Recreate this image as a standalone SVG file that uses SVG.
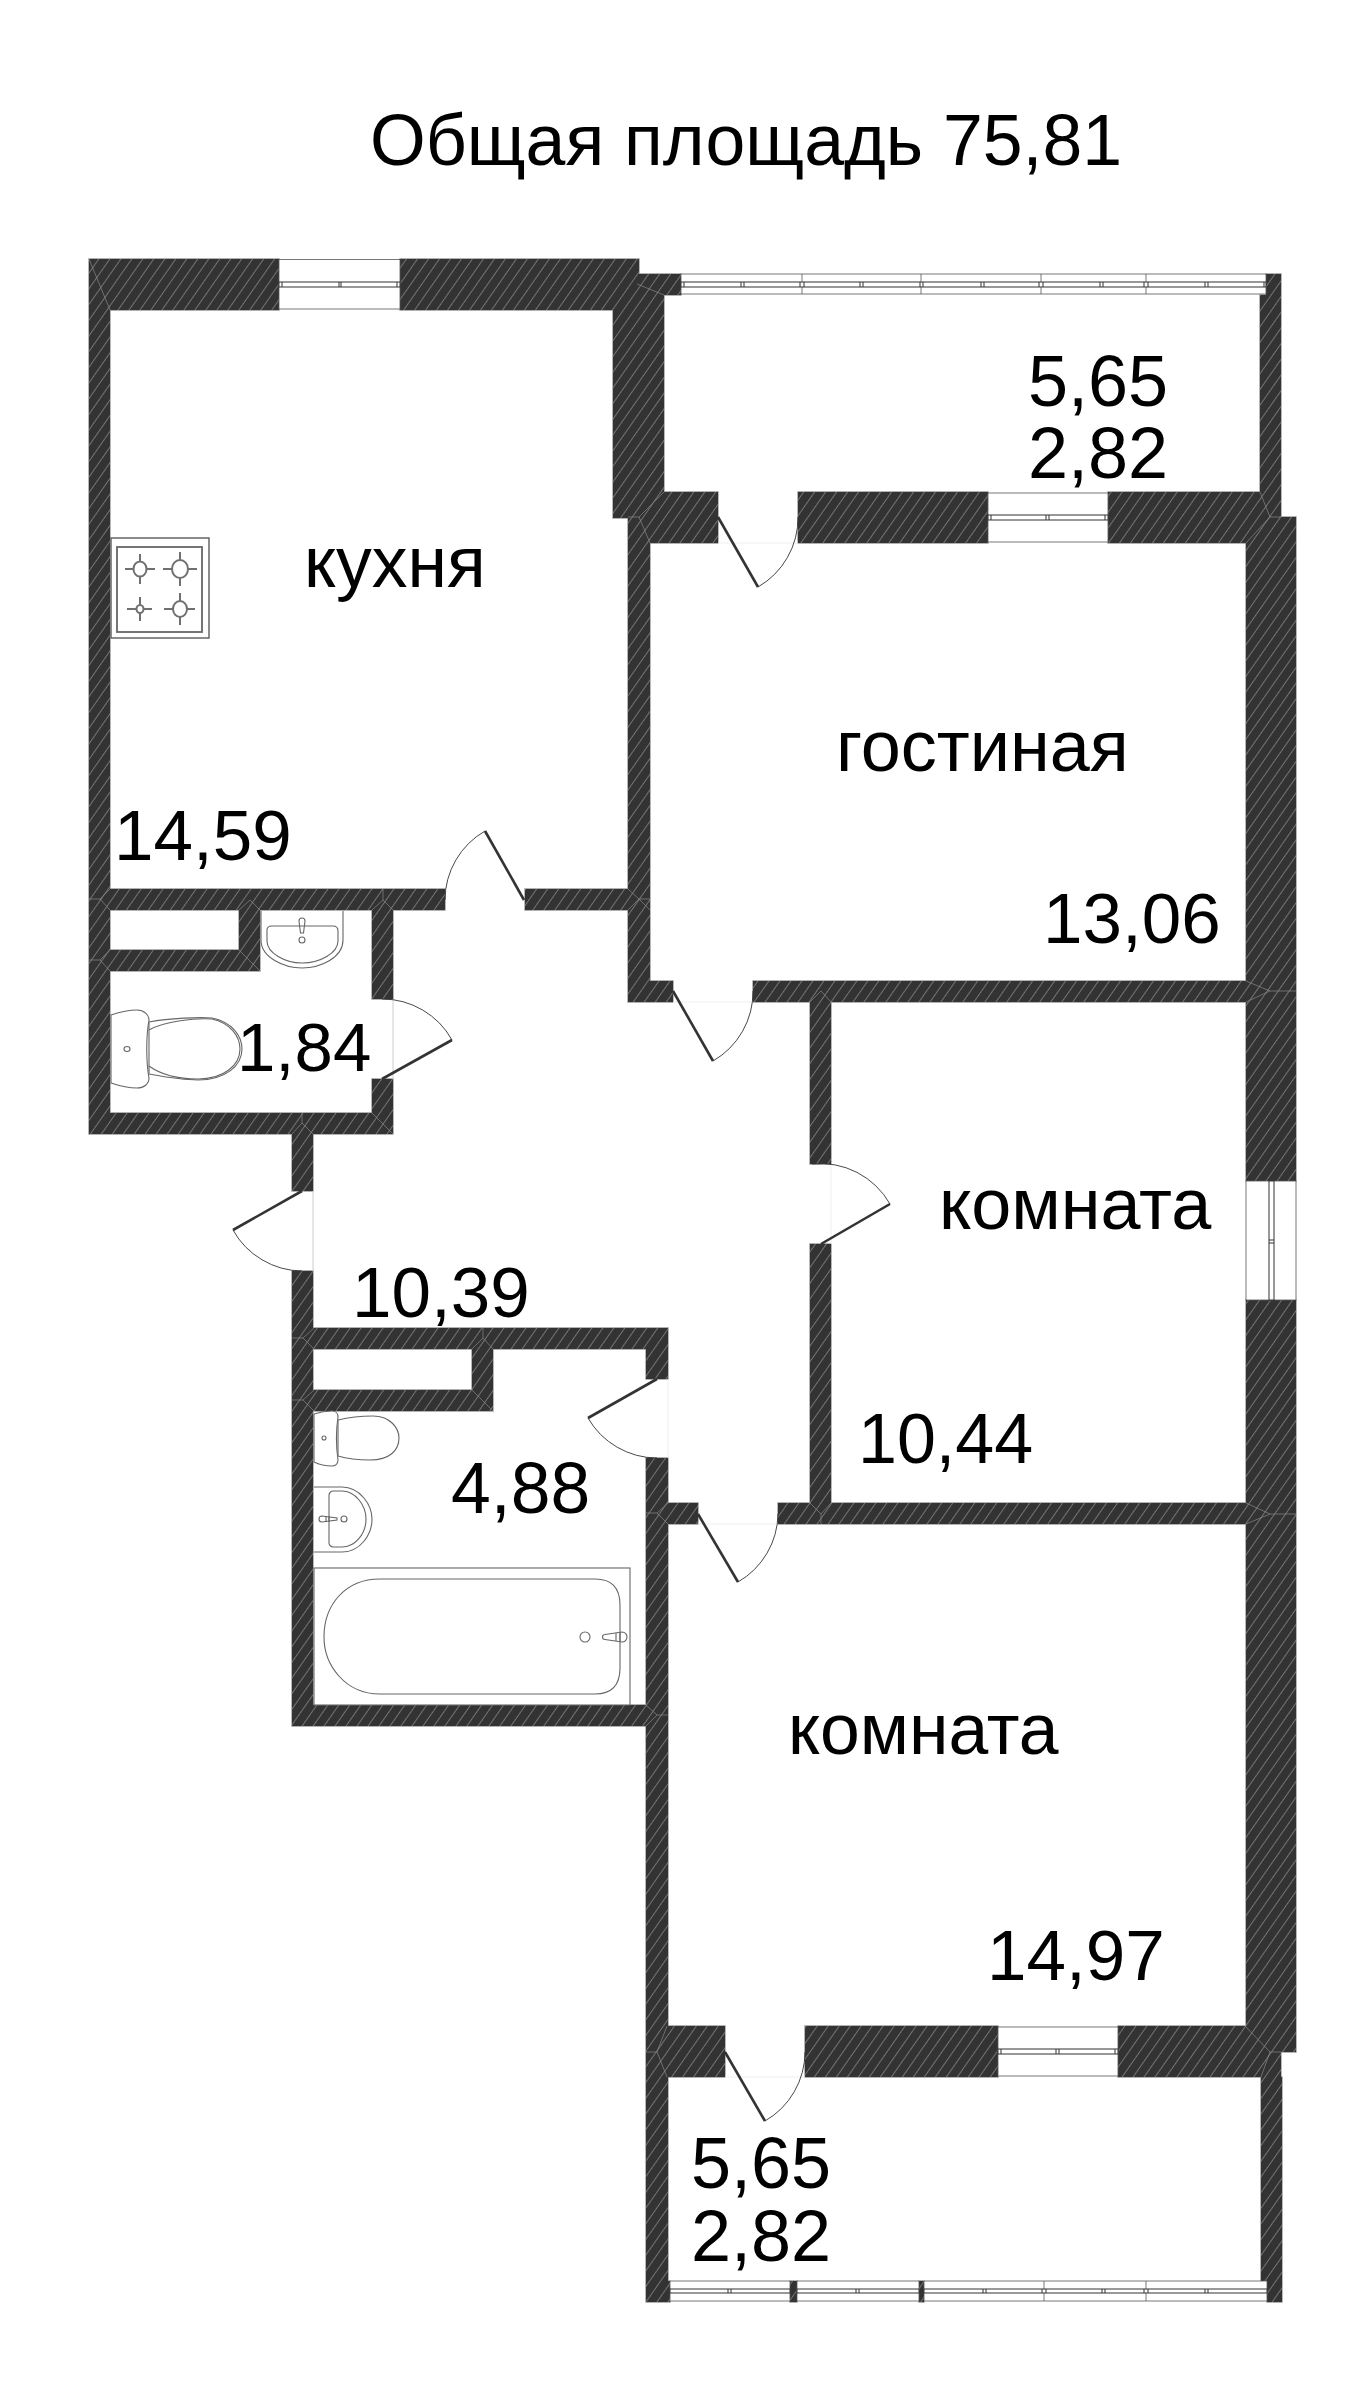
<svg xmlns="http://www.w3.org/2000/svg" xmlns:xlink="http://www.w3.org/1999/xlink" width="1371" height="2391" viewBox="0 0 1371 2391">
<style>
text{font-family:"Liberation Sans",Arial,sans-serif;font-size:72px;fill:#000}
.m{fill:none;stroke:#888;stroke-width:.7}
.leaf{fill:none;stroke:#333;stroke-width:2.6}
.arc{fill:none;stroke:#333;stroke-width:.9}
.th{fill:none;stroke:#ccc;stroke-width:1}
.th2{fill:none;stroke:#eee;stroke-width:1}
.win{fill:#fff;stroke:#555;stroke-width:.8}
.bar{fill:#fff;stroke:#333;stroke-width:1}
.fx{fill:#fff;stroke:#666;stroke-width:1.1}
.fx0{fill:none;stroke:#666;stroke-width:1.1}
.bn{fill:none;stroke:#707070;stroke-width:2}
</style>
<defs>
<pattern id="hatch" width="9" height="9" patternUnits="userSpaceOnUse" patternTransform="rotate(35)">
<rect width="9" height="9" fill="#333"/>
<line x1="4.5" y1="0" x2="4.5" y2="9" stroke="#7c7c7c" stroke-width=".9"/>
</pattern>
<path id="walls" d="M89 259H279V310H89Z M400 259H639V310H400Z M89 259H110V1134H89Z M613 274H664V518H613Z M613 259H639V310H613Z M639 274H681V295H639Z M628 518H650V1002H628Z M628 492H718V543H628Z M798 492H988V543H798Z M1108 492H1281V543H1108Z M1266 274H1281V295H1266Z M1260 295H1281V517H1260Z M1246 517H1296V1181H1246Z M1246 1300H1296V2052H1246Z M628 981H673V1002H628Z M753 981H1246V1002H753Z M89 889H445V910H89Z M525 889H650V910H525Z M110 950H260V971H110Z M239 910H260V971H239Z M372 910H393V999H372Z M372 1079H393V1134H372Z M89 1113H393V1134H89Z M292 1134H313V1191H292Z M292 1271H313V1726H292Z M292 1328H668V1349H292Z M313 1390H493V1411H313Z M472 1349H493V1411H472Z M646 1328H668V1379H646Z M646 1458H668V2302H646Z M668 1503H698V1524H668Z M778 1503H1246V1524H778Z M292 1705H668V1726H292Z M810 1002H831V1164H810Z M810 1244H831V1503H810Z M646 2026H725V2077H646Z M805 2026H998V2077H805Z M1118 2026H1281V2077H1118Z M1261 2077H1282V2281H1261Z M1267 2281H1282V2302H1267Z M668 2281H670V2302H668Z M790 2281H797V2302H790Z M919 2281H924V2302H919Z"/>
</defs>
<rect width="1371" height="2391" fill="#fff"/>
<g id="walls-layer">
<use xlink:href="#walls" href="#walls" fill="#999" stroke="#999" stroke-width="1.4"/>
<use xlink:href="#walls" href="#walls" fill="url(#hatch)"/>
<path class="m" d="M89 259L110 310M637 284L664 295M664 492L639 517L650 543M628 517H639M1260 492L1270 517L1246 543M1270 517H1281M1246 981L1270 991L1246 1002M1270 991H1296M1246 1503L1270 1514L1246 1524M1270 1514H1296M810 1002L821 991L831 1002M810 1503L821 1514L831 1503M821 1514V1524M89 899H100L110 910M100 899L110 889M239 910L250 900L260 910M383 889V900L372 910M383 900L393 910M89 960H100L110 971M100 960L110 950M239 950L260 971M302 1113V1123L292 1134M302 1123L313 1134M372 1113L393 1134M292 1338H303L314 1349M303 1338L314 1328M483 1328V1338L472 1349M483 1338L493 1349M292 1400H303L314 1411M303 1400L314 1390M472 1390L493 1411M646 1513H657L668 1524M657 1513L668 1503M646 1705L657 1715H668M657 1715L646 1726M667 2026L657 2052L667 2077M646 2052H657M1245 2026L1270 2052L1261 2077M1270 2052H1281M628 910L639 899L650 910M628 889L639 899H650"/>
</g>
<g id="windows">
<g id="win-kitchen"><rect class="win" x="279" y="259.5" width="121" height="49.5"/><rect class="bar" x="279" y="282" width="121" height="5"/><path class="bar" d="M339 282V287M341 282V287M282 282V287M397 282V287"/></g>
<g id="win-balcony-top"><rect class="win" x="681" y="274" width="585" height="20"/><path class="win" d="M802 274V294M921 274V294M1041 274V294M1146 274V294"/><rect class="bar" x="681" y="282" width="585" height="5"/><path class="bar" d="M684 282V287M741 282V287M744 282V287M800 282V287M804 282V287M860 282V287M863 282V287M920 282V287M923 282V287M981 282V287M984 282V287M1039 282V287M1043 282V287M1100 282V287M1103 282V287M1144 282V287M1148 282V287M1205 282V287M1208 282V287M1264 282V287"/></g>
<g id="win-living"><rect class="win" x="988" y="493" width="120" height="49"/><rect class="bar" x="988" y="515" width="120" height="5"/><path class="bar" d="M1046 515V520M1049 515V520M991 515V520M1105 515V520"/></g>
<g id="win-east"><rect class="win" x="1246" y="1181" width="50" height="119"/><rect class="bar" x="1269" y="1181" width="5" height="119"/><path class="bar" d="M1269 1240H1274M1269 1243H1274"/></g>
<g id="win-room"><rect class="win" x="998" y="2027" width="120" height="49"/><rect class="bar" x="998" y="2049" width="120" height="5"/><path class="bar" d="M1056 2049V2054M1059 2049V2054M1001 2049V2054M1115 2049V2054"/></g>
<g id="win-balcony-bottom"><path class="win" d="M670 2281H790V2301H670ZM797 2281H919V2301H797ZM924 2281H1267V2301H924ZM1044 2281V2301M1146 2281V2301"/><path class="bar" d="M670 2289H790V2293H670ZM797 2289H919V2293H797ZM924 2289H1267V2293H924Z"/><path class="bar" d="M728 2289V2293M731 2289V2293M856 2289V2293M859 2289V2293M983 2289V2293M986 2289V2293M1042 2289V2293M1046 2289V2293M1102 2289V2293M1105 2289V2293M1144 2289V2293M1148 2289V2293M1205 2289V2293M1208 2289V2293"/></g>
</g>
<g id="doors">
<g id="door-kitchen"><path class="leaf" d="M524 900L485 831"/><path class="arc" d="M485 831A80 80 0 0 0 445 900"/></g>
<g id="door-wc"><path class="th" d="M393 999V1079"/><path class="leaf" d="M382 1079L452 1040"/><path class="arc" d="M452 1040A80 80 0 0 0 382 999"/></g>
<g id="door-entry"><path class="th" d="M313 1191V1271"/><path class="leaf" d="M302 1191L233 1230"/><path class="arc" d="M233 1230A80 80 0 0 0 302 1271"/></g>
<g id="door-living"><path class="th2" d="M673 1002H753"/><path class="leaf" d="M673 991L713 1061"/><path class="arc" d="M713 1061A80 80 0 0 0 753 991"/></g>
<g id="door-bath"><path class="th2" d="M668 1379V1458"/><path class="leaf" d="M657 1379L588 1418"/><path class="arc" d="M588 1418A80 80 0 0 0 657 1458"/></g>
<g id="door-room1"><path class="th2" d="M831 1164V1244"/><path class="leaf" d="M821 1244L890 1204"/><path class="arc" d="M890 1204A80 80 0 0 0 812 1164"/></g>
<g id="door-room2"><path class="th2" d="M698 1524H778"/><path class="leaf" d="M698 1514L738 1582"/><path class="arc" d="M738 1582A80 80 0 0 0 778 1514"/></g>
<g id="door-balcony-top"><path class="th2" d="M718 543H798"/><path class="leaf" d="M718 517L758 587"/><path class="arc" d="M758 587A80 80 0 0 0 798 517"/></g>
<g id="door-balcony-bottom"><path class="th2" d="M725 2077H805"/><path class="leaf" d="M725 2052L765 2121"/><path class="arc" d="M765 2121A80 80 0 0 0 805 2052"/></g>
</g>
<g id="stove">
<rect x="111" y="538" width="98" height="100" fill="#fff" stroke="#666" stroke-width="1.5"/>
<rect x="117" y="547" width="85" height="85" fill="#fff" stroke="#666" stroke-width="1.8"/>
<ellipse class="bn" cx="140" cy="569" rx="6.500" ry="7.500"/><path class="bn" d="M125 569H134M146 569H155M140 554V561M140 577V584"/>
<ellipse class="bn" cx="180" cy="569" rx="8" ry="9"/><path class="bn" d="M163 569H172M188 569H197M180 552V560M180 578V586"/>
<ellipse class="bn" cx="140" cy="609" rx="3.500" ry="4"/><path class="bn" d="M127 609H136M144 609H152M140 597V605M140 613V621"/>
<ellipse class="bn" cx="180" cy="609" rx="7" ry="8"/><path class="bn" d="M164 609H173M187 609H195M180 593V601M180 617V625"/>
</g>
<g id="sink-wc">
<path class="fx0" d="M261 911V940C261 958 285 968 302 968C320 968 343 958 343 940V911"/>
<path class="fx0" d="M267 930C267 927 270 926 272 926H333C336 926 338 928 338 931V941C338 953 320 963 302 963C285 963 267 953 267 941Z"/>
<path class="fx0" d="M299 921A3 3 0 0 1 305 921L303.500 933H300.500Z"/><circle class="fx0" cx="302" cy="940" r="3"/>
</g>
<g id="toilet-wc">
<path class="fx" d="M149 1022C170 1018 200 1017 212 1018C232 1022 242 1036 242 1049C242 1066 225 1080 198 1080C180 1080 160 1076 149 1074Z"/>
<path class="fx0" d="M149 1030C165 1021 195 1018 212 1019C230 1023 240 1036 240 1049C240 1065 224 1079 198 1079C178 1079 160 1074 149 1066"/>
<path class="fx" d="M111 1015C120 1012 128 1010 137 1010C144 1010 149 1015 149 1020C146 1036 146 1062 149 1078C149 1084 144 1088 137 1088C128 1088 120 1086 111 1083Z"/>
<ellipse class="fx0" cx="127" cy="1049" rx="3" ry="2.500"/>
</g>
<g id="toilet-bath">
<path class="fx" d="M338 1420C350 1417 365 1416 373 1416C390 1416 399 1428 399 1438C399 1450 390 1460 370 1460C360 1460 348 1459 338 1456Z"/>
<path class="fx" d="M314 1414C320 1412 326 1411 332 1411C336 1411 338 1414 338 1417C336 1430 336 1446 338 1460C338 1464 335 1466 332 1466C326 1466 320 1465 314 1462Z"/>
<circle class="fx0" cx="324" cy="1438" r="2"/>
</g>
<g id="sink-bath">
<path class="fx0" d="M314 1487H342C360 1487 372 1505 372 1519C372 1535 360 1552 342 1552H314"/>
<path class="fx0" d="M333 1491H342C355 1491 366 1505 366 1519C366 1534 355 1547 342 1547H333C331 1547 329 1545 329 1543V1495C329 1493 331 1491 333 1491Z"/>
<path class="fx0" d="M322 1516A3 3 0 0 0 322 1522L337 1520V1518Z"/><path class="fx0" d="M326 1516V1522M329 1516V1522"/><circle class="fx0" cx="344" cy="1519" r="3"/>
</g>
<g id="bath">
<rect class="fx" x="314" y="1568" width="316" height="137"/>
<path class="fx" d="M380 1579H595Q620 1579 620 1605V1668Q620 1694 595 1694H380C345 1694 324 1665 324 1637C324 1605 345 1579 380 1579Z"/>
<circle class="fx0" cx="585" cy="1637" r="5"/>
<path class="fx0" d="M605 1634.500L622 1632A5 5 0 0 1 622 1642L605 1639.500A2.500 2.500 0 0 1 605 1634.500Z"/><path class="fx0" d="M616 1633V1641M620 1633V1641"/>
</g>
<g id="labels">
<text id="title" x="370" y="165" style="font-size:71.6px">Общая площадь 75,81</text>
<text x="304" y="587" style="font-size:71.5px">кухня</text>
<text x="114" y="860" style="font-size:71px">14,59</text>
<text x="237" y="1071" style="font-size:69px">1,84</text>
<text x="836" y="771">гостиная</text>
<text x="1043" y="943" style="font-size:71px">13,06</text>
<text x="1028" y="406">5,65</text>
<text x="1028" y="478">2,82</text>
<text x="939" y="1229">комната</text>
<text x="858" y="1463" style="font-size:70px">10,44</text>
<text x="352" y="1317" style="font-size:71px">10,39</text>
<text x="451" y="1513" style="font-size:71.5px">4,88</text>
<text x="788" y="1754" style="font-size:71.5px">комната</text>
<text x="987" y="1980" style="font-size:71px">14,97</text>
<text x="691" y="2188">5,65</text>
<text x="691" y="2261">2,82</text>
</g>
</svg>
